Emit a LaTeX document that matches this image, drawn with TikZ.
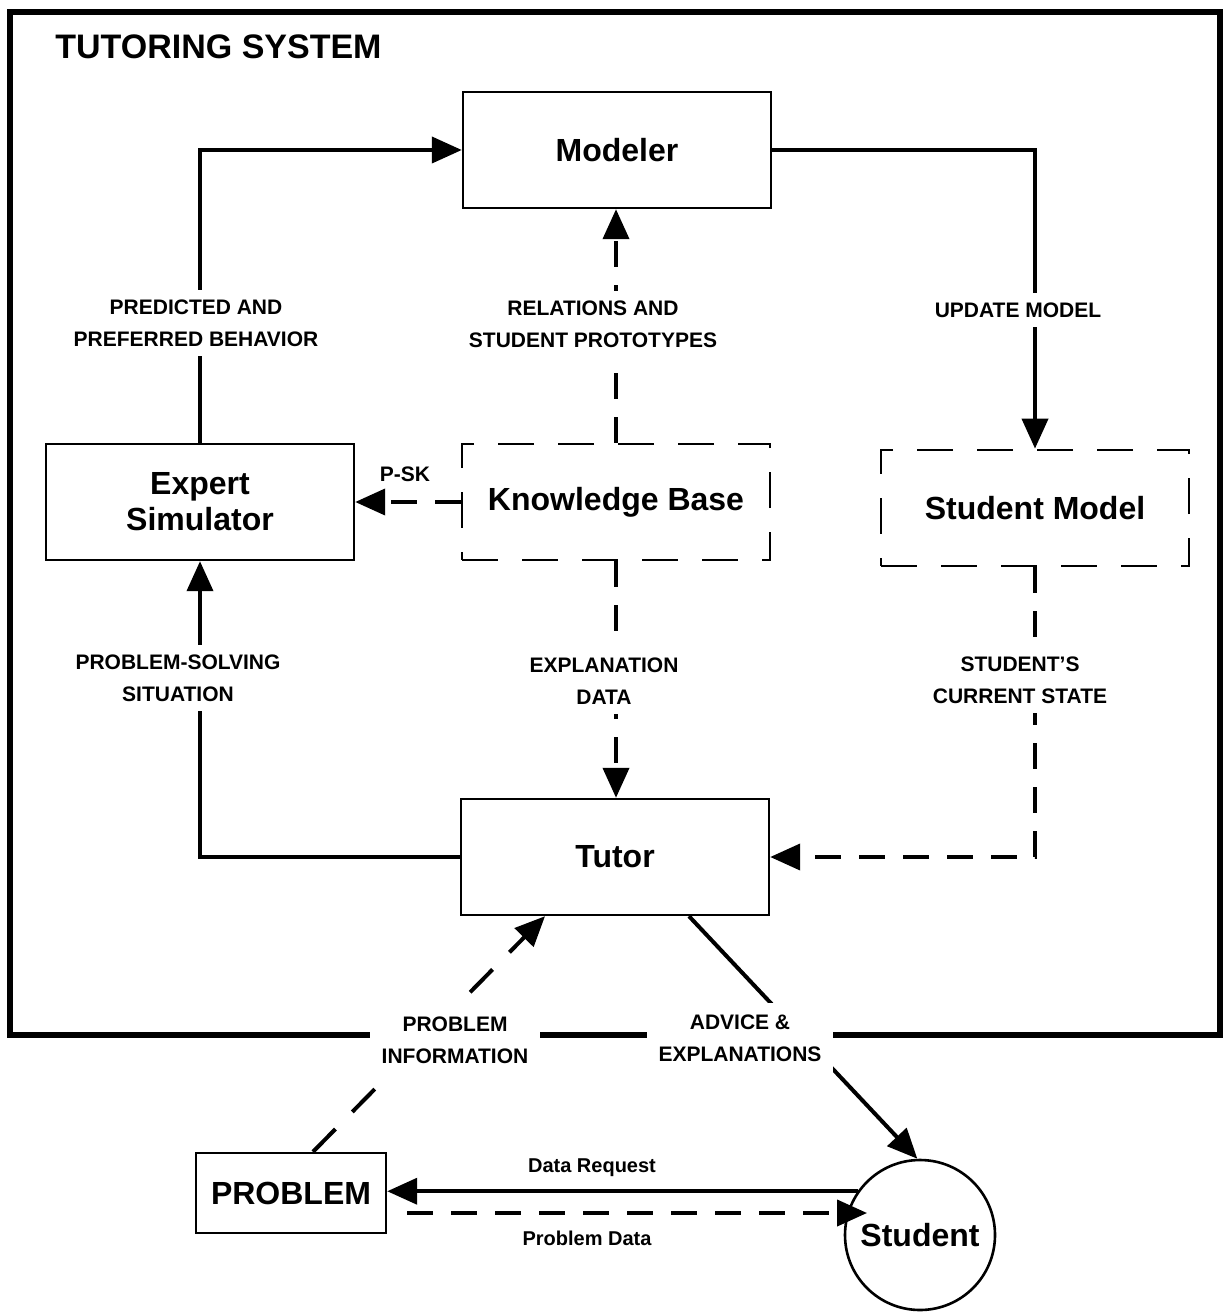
\documentclass[tikz,border=0pt]{standalone}
\usepackage{fontspec}
\setmainfont{Liberation Sans}
\usetikzlibrary{arrows.meta,positioning}
\newcommand{\boxfont}{\fontsize{16}{18}\selectfont\bfseries}
\newcommand{\lblfont}{\fontsize{10.5}{16}\selectfont\bfseries}

\tikzset{
  blk/.style={draw,line width=1.2pt,minimum width=154pt,minimum height=58pt,
    align=center,font=\boxfont},
  dblk/.style={blk,dash pattern=on 18pt off 12pt,line width=1.4pt},
  flow/.style={line width=2pt,-{Triangle[length=15pt,width=13pt]}},
  dflow/.style={flow,dash pattern=on 13pt off 9pt},
  lbl/.style={fill=white,font=\lblfont,align=center,inner sep=5pt}
}

\begin{document}
\begin{tikzpicture}[x=0.5pt,y=-0.5pt]
        \useasboundingbox (0,0) rectangle (1229,1315);
        \draw[line width=3pt] (10,12) rectangle (1220,1035);
        \node[anchor=west,inner sep=0pt,font=\fontsize{17}{20}\selectfont\bfseries] (title) at (55,47) {TUTORING SYSTEM};

        % boxes inside the tutoring system
        \node[blk] (modeler) at (617,150) {Modeler};
        \node[blk] (expert) at (200,502) {Expert\\Simulator};
        \node[dblk] (kb) at (616,502) {Knowledge Base};
        \node[dblk] (stmodel) at (1035,508) {Student Model};
        \node[blk] (tutor) at (615,857) {Tutor};

        % outside
        \node[blk,minimum width=95pt,minimum height=40pt] (problem) at (291,1193) {PROBLEM};
        \node[draw,circle,line width=1.3pt,minimum size=75pt,font=\boxfont] (student) at (920,1235) {Student};

        \draw[flow] (expert.north) |- (modeler.west);
        \draw[flow] (modeler.east) -| (stmodel.north);
        \draw[dflow] (kb.north) -- (kb.north |- modeler.south);
        \draw[dflow] (kb.west) -- (kb.west -| expert.east);
        \draw[dflow] (kb.south) -- (kb.south |- tutor.north);
        \draw[dflow] (stmodel.south) |- (tutor.east);
        \draw[flow] (tutor.west) -| (expert.south);
        \draw[dflow,dash pattern=on 16pt off 12pt] ([xshift=11pt]problem.north) -- ([xshift=-35pt]tutor.south);
        \draw[flow] ([xshift=37pt]tutor.south) -- (student.92);
        \draw[flow] (student.145) -- (student.145 -| problem.east);
        \draw[dflow] ([xshift=10pt,yshift=-10pt]problem.east) -- ([xshift=10pt,yshift=-10pt]problem.east -| student.163);

        % labels
        \node[lbl] (lpred) at (196,323) {PREDICTED AND\\PREFERRED BEHAVIOR};
        \node[lbl] (lrel) at (593,324) {RELATIONS AND\\STUDENT PROTOTYPES};
        \node[lbl] (lupd) at (1018,310) {UPDATE MODEL};
        \node[font=\lblfont] (lpsk) at (405,474) {P-SK};
        \node[lbl] (lsolv) at (178,678) {PROBLEM-SOLVING\\SITUATION};
        \node[lbl] (lexpl) at (604,681) {EXPLANATION\\DATA};
        \node[lbl] (lstate) at (1020,680) {STUDENT'S\\CURRENT STATE};
        \node[lbl,inner sep=6pt] (linfo) at (455,1040) {PROBLEM\\INFORMATION};
        \node[lbl,inner sep=6pt] (ladv) at (740,1038) {ADVICE \&\\EXPLANATIONS};
        \node[font=\fontsize{10}{12}\selectfont\bfseries] (lreq) at (592,1168) {Data Request};
        \node[font=\fontsize{10}{12}\selectfont\bfseries] (lpdat) at (587,1238) {Problem Data};
      \end{tikzpicture}
\end{document}
